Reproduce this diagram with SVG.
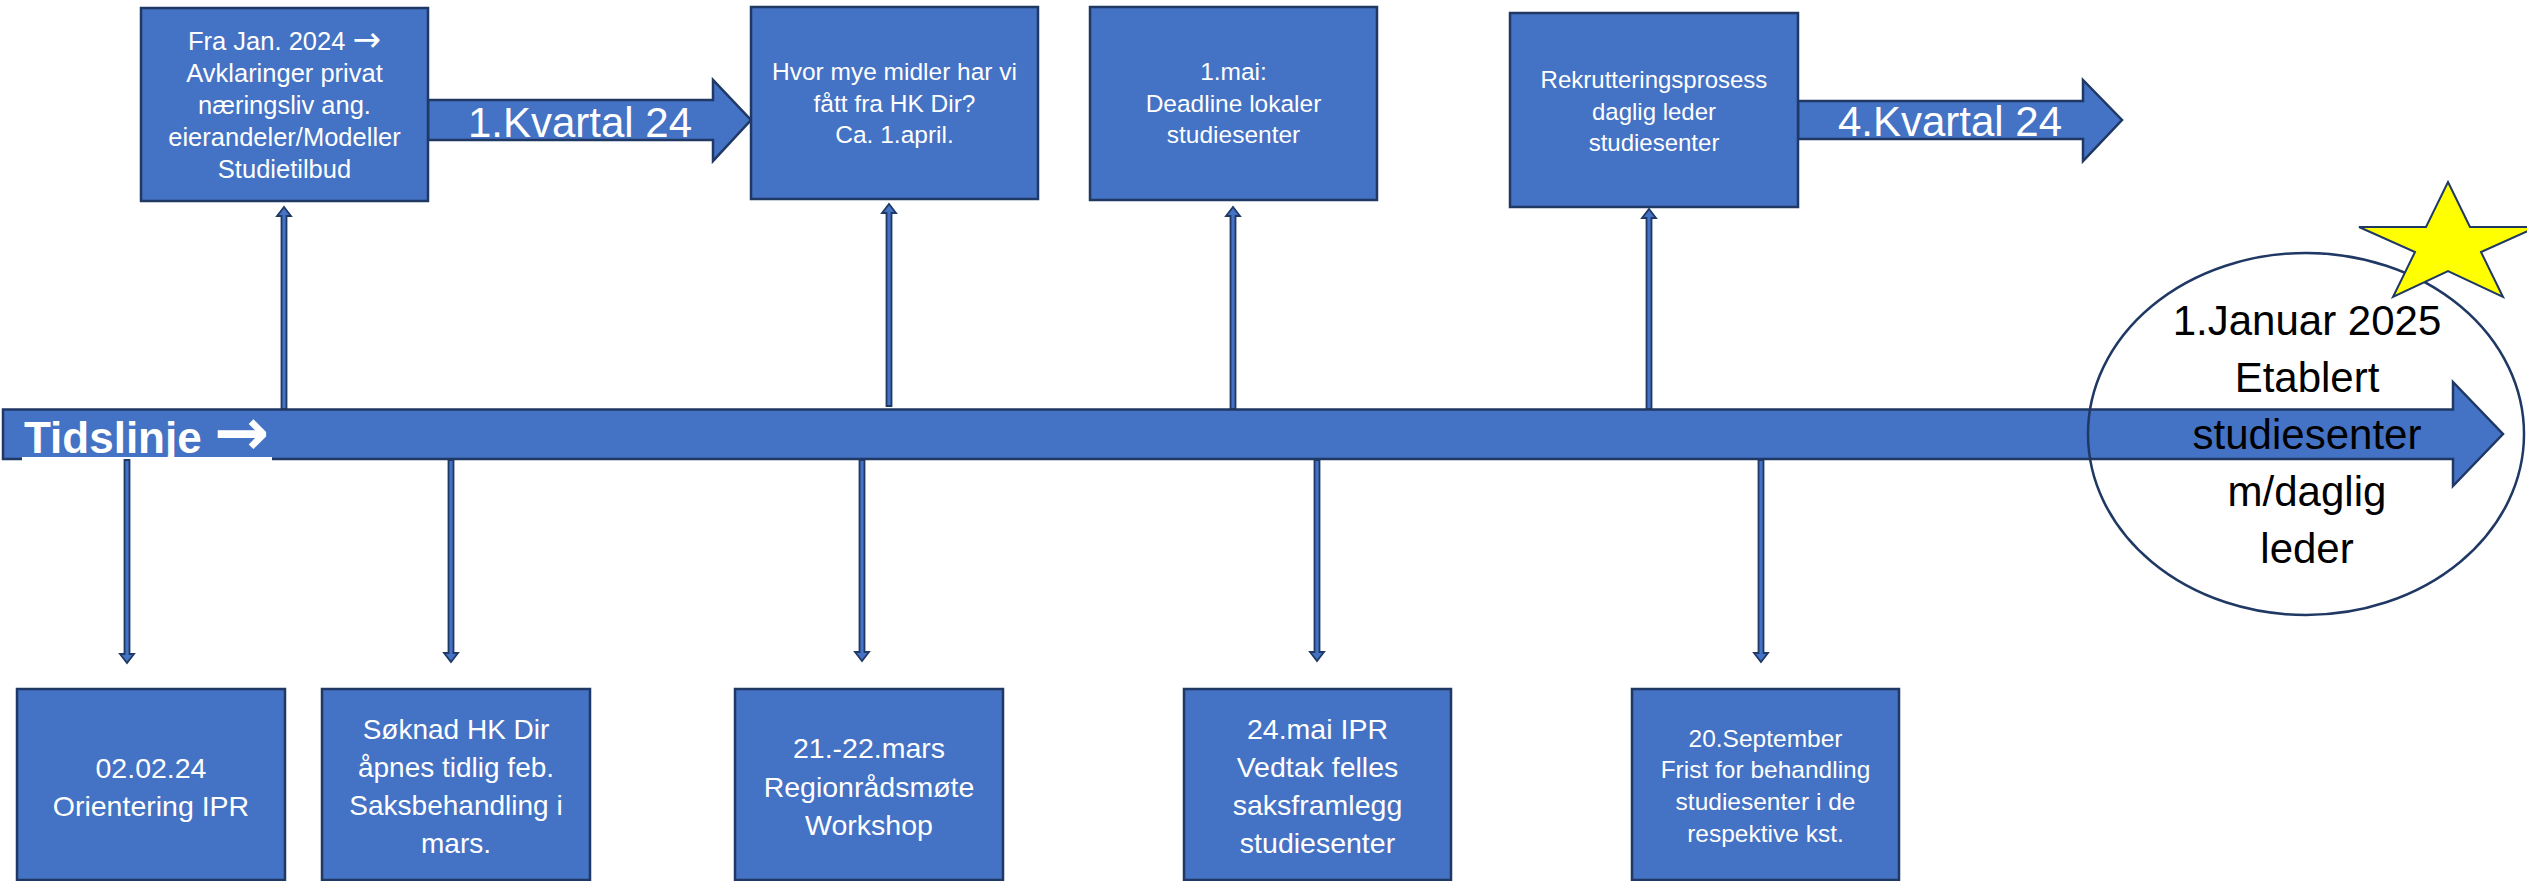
<svg xmlns="http://www.w3.org/2000/svg" width="2527" height="881" viewBox="0 0 2527 881">
<style>
.box{fill:#4472C4;stroke:#1F3864;stroke-width:2.5}
.bar{fill:#4472C4;stroke:#1F3864;stroke-width:2.5;stroke-linejoin:miter}
.con{fill:#4472C4;stroke:#1F3864;stroke-width:1.8}
.t{font-family:"Liberation Sans",Arial,sans-serif;fill:#FFFFFF;text-anchor:middle}
.k{font-family:"Liberation Sans",Arial,sans-serif;fill:#000000;text-anchor:middle}
.ar{font-family:"DejaVu Sans",sans-serif}
</style>
<rect width="2527" height="881" fill="#FFFFFF"/>

<g id="timeline">
<polygon class="bar" points="3,409.5 2453,409.5 2453,382 2503,434 2453,486 2453,459 3,459"/>
<rect x="22" y="457" width="250" height="6" fill="#FFFFFF"/>
<text class="t" x="24" y="453" font-size="44" font-weight="bold" style="text-anchor:start">Tidslinje <tspan class="ar" font-size="66" dy="2">→</tspan></text>
</g>

<g id="connectors">
<polygon class="con" points="281.5,409 281.5,216 277,216 284,207 291,216 286.5,216 286.5,409"/>
<polygon class="con" points="886.5,406 886.5,213 882,213 889,204 896,213 891.5,213 891.5,406"/>
<polygon class="con" points="1230.5,409 1230.5,216 1226,216 1233,207 1240,216 1235.5,216 1235.5,409"/>
<polygon class="con" points="1646.5,409 1646.5,218 1642,218 1649,209 1656,218 1651.5,218 1651.5,409"/>
<polygon class="con" points="124.5,460 124.5,654 120,654 127,663 134,654 129.5,654 129.5,460"/>
<polygon class="con" points="448.5,460 448.5,653 444,653 451,662 458,653 453.5,653 453.5,460"/>
<polygon class="con" points="859.5,460 859.5,652 855,652 862,661 869,652 864.5,652 864.5,460"/>
<polygon class="con" points="1314.5,460 1314.5,652 1310,652 1317,661 1324,652 1319.5,652 1319.5,460"/>
<polygon class="con" points="1758.5,460 1758.5,653 1754,653 1761,662 1768,653 1763.5,653 1763.5,460"/>
</g>

<g id="q1">
<polygon class="bar" points="428,100 713,100 713,80 751,120 713,161 713,140 428,140"/>
<text class="t" x="580" y="137" font-size="42">1.Kvartal 24</text>
</g>

<g id="q4">
<polygon class="bar" points="1798,101 2083,101 2083,80 2122,120 2083,161 2083,139 1798,139"/>
<text class="t" x="1950" y="136" font-size="42">4.Kvartal 24</text>
</g>

<g id="box-jan">
<rect class="box" x="141" y="8" width="287" height="193"/>
<text class="t" font-size="25.5"><tspan x="284.5" y="50">Fra Jan. 2024 <tspan class="ar" font-size="34" dy="1">→</tspan></tspan><tspan x="284.5" y="82">Avklaringer privat</tspan><tspan x="284.5" y="114">næringsliv ang.</tspan><tspan x="284.5" y="146">eierandeler/Modeller</tspan><tspan x="284.5" y="178">Studietilbud</tspan></text>
</g>

<g id="box-midler">
<rect class="box" x="751" y="7" width="287" height="192"/>
<text class="t" font-size="24.5"><tspan x="894.5" y="80">Hvor mye midler har vi</tspan><tspan x="894.5" y="112">fått fra HK Dir?</tspan><tspan x="894.5" y="143">Ca. 1.april.</tspan></text>
</g>

<g id="box-mai">
<rect class="box" x="1090" y="7" width="287" height="193"/>
<text class="t" font-size="24.5"><tspan x="1233.5" y="80">1.mai:</tspan><tspan x="1233.5" y="112">Deadline lokaler</tspan><tspan x="1233.5" y="143">studiesenter</tspan></text>
</g>

<g id="box-rekruttering">
<rect class="box" x="1510" y="13" width="288" height="194"/>
<text class="t" font-size="24"><tspan x="1654" y="88">Rekrutteringsprosess</tspan><tspan x="1654" y="120">daglig leder</tspan><tspan x="1654" y="151">studiesenter</tspan></text>
</g>

<g id="box-0202">
<rect class="box" x="17" y="689" width="268" height="191"/>
<text class="t" font-size="28.5"><tspan x="151" y="778">02.02.24</tspan><tspan x="151" y="816">Orientering IPR</tspan></text>
</g>

<g id="box-soknad">
<rect class="box" x="322" y="689" width="268" height="191"/>
<text class="t" font-size="28"><tspan x="456" y="739">Søknad HK Dir</tspan><tspan x="456" y="777">åpnes tidlig feb.</tspan><tspan x="456" y="815">Saksbehandling i</tspan><tspan x="456" y="853">mars.</tspan></text>
</g>

<g id="box-mars">
<rect class="box" x="735" y="689" width="268" height="191"/>
<text class="t" font-size="28.5"><tspan x="869" y="758">21.-22.mars</tspan><tspan x="869" y="797">Regionrådsmøte</tspan><tspan x="869" y="835">Workshop</tspan></text>
</g>

<g id="box-24mai">
<rect class="box" x="1184" y="689" width="267" height="191"/>
<text class="t" font-size="28.5"><tspan x="1317.5" y="739">24.mai IPR</tspan><tspan x="1317.5" y="777">Vedtak felles</tspan><tspan x="1317.5" y="815">saksframlegg</tspan><tspan x="1317.5" y="853">studiesenter</tspan></text>
</g>

<g id="box-september">
<rect class="box" x="1632" y="689" width="267" height="191"/>
<text class="t" font-size="24.5"><tspan x="1765.5" y="747">20.September</tspan><tspan x="1765.5" y="778">Frist for behandling</tspan><tspan x="1765.5" y="810">studiesenter i de</tspan><tspan x="1765.5" y="842">respektive kst.</tspan></text>
</g>

<g id="goal">
<ellipse cx="2306" cy="434" rx="218" ry="181" fill="none" stroke="#1F3864" stroke-width="2.5"/>
<polygon points="2448,182 2470,227 2537,227 2481,252 2503,297 2448,271 2393,297 2415,252 2359,227 2426,227" fill="#FFFF00" stroke="#1F3864" stroke-width="2"/>
<text class="k" font-size="42"><tspan x="2307" y="335">1.Januar 2025</tspan><tspan x="2307" y="392">Etablert</tspan><tspan x="2307" y="449">studiesenter</tspan><tspan x="2307" y="506">m/daglig</tspan><tspan x="2307" y="563">leder</tspan></text>
</g>
</svg>
